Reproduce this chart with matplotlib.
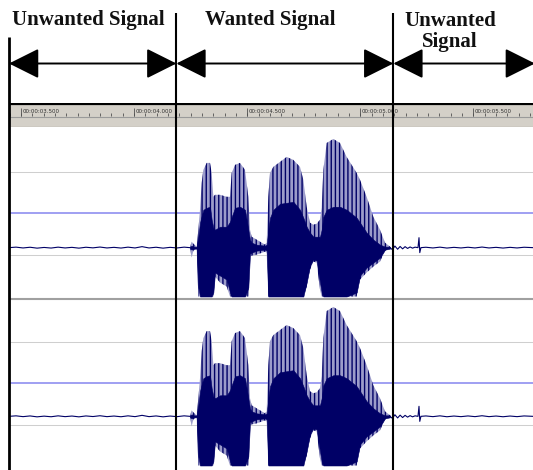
import matplotlib
matplotlib.use("Agg")
import matplotlib.pyplot as plt
import numpy as np

# ---- values ----
# segment boundaries in seconds (the last one sits just past the right edge)
segment_bounds = [3.447, 4.187, 5.146, 5.772]
segment_labels = ["Unwanted Signal", "Wanted Signal", "Unwanted\nSignal"]
label_times = [3.796, 4.601, 5.397]

ruler_major = [3.5, 4.0, 4.5, 5.0, 5.5]
ruler_labels = ["00:00:03.500", "00:00:04.000", "00:00:04.500",
                "00:00:05.000", "00:00:05.500"]

# speech burst envelope (time in s, amplitude in screen px above baseline)
env_t = [4.2471, 4.2545, 4.2618, 4.2766, 4.2840, 4.2913, 4.2987, 4.3061,
         4.3208, 4.3355, 4.3429, 4.3503, 4.3577, 4.3798, 4.4092, 4.4240,
         4.4314, 4.4461, 4.4682, 4.4903, 4.5050, 4.5124, 4.5197, 4.5418,
         4.5787, 4.5860, 4.5934, 4.6008, 4.6155, 4.6450, 4.6744, 4.7039,
         4.7334, 4.7482, 4.7629, 4.7776, 4.7924, 4.8071, 4.8218, 4.8292,
         4.8366, 4.8513, 4.8807, 4.9102, 4.9397, 4.9839, 4.9987, 5.0281,
         5.0576, 5.0871, 5.1092, 5.1313]
env_top = [1, 6, 4, 1, 18, 38, 65, 78, 85, 85, 75, 51, 53, 53, 51, 51,
           75, 83, 85, 78, 51, 18, 11, 8, 3, 5, 51, 75, 81, 86, 91, 88,
           81, 68, 41, 25, 23, 24, 28, 40, 78, 105, 109, 105, 91, 75, 68, 51,
           31, 18, 5, 1]
env_core_top = [1, 2, 1, 1, 11, 25, 32, 38, 40, 41, 28, 20, 18, 21, 21, 26,
                31, 40, 41, 38, 18, 8, 5, 3, 2, 3, 18, 30, 38, 44, 45, 46,
                38, 30, 21, 15, 11, 11, 11, 18, 31, 38, 41, 41, 38, 30, 25, 15,
                8, 3, 1, 1]
env_core_low = [-1, -2, -1, -1, -40, -49, -49, -49, -49, -49, -49, -45, -25,
                -28, -32, -45, -49, -49, -49, -49, -40, -6, -5, -3, -2, -3,
                -49, -49, -49, -49, -49, -49, -49, -49, -35, -18, -12, -13,
                -35, -45, -49, -49, -49, -49, -49, -45, -28, -20, -15, -10,
                -2, -1]
env_low = [-1, -10, -3, -1, -49, -49, -49, -49, -49, -49, -49, -49, -29, -35,
           -39, -49, -49, -49, -49, -49, -49, -9, -8, -7, -4, -5, -49, -49,
           -49, -49, -49, -49, -49, -49, -39, -22, -14, -15, -42, -49, -49,
           -49, -49, -49, -49, -49, -32, -25, -19, -14, -3, -1]

# background noise before and after the word
quiet_pre_t = [3.447, 3.478, 3.509, 3.540, 3.571, 3.602, 3.633, 3.664, 3.695,
               3.725, 3.756, 3.787, 3.818, 3.849, 3.880, 3.911, 3.942, 3.973,
               4.004, 4.035, 4.066, 4.097, 4.128, 4.159, 4.190, 4.221, 4.247]
quiet_pre_amp = [0, 0.5, -0.3, 0.4, -0.5, 0.2, -0.4, 0.5, -0.3, 0.3, -0.5,
                 0.4, -0.2, 0.6, -0.3, 0.3, -0.4, 0.5, -0.3, 1.0, -0.3, 0.4,
                 -0.5, 0.3, -0.3, 0.5, 0]
quiet_post_t = [5.131, 5.142, 5.153, 5.165, 5.176, 5.187, 5.198, 5.209, 5.220,
                5.231, 5.242, 5.255, 5.2595, 5.263, 5.268, 5.290, 5.321, 5.352,
                5.383, 5.414, 5.445, 5.476, 5.507, 5.538, 5.569, 5.600, 5.631,
                5.662, 5.693, 5.724, 5.764]
quiet_post_amp = [0, -2.0, 1.6, -1.6, 1.2, -1.2, 1.0, -0.8, 0.7, -0.5, 0.5, 0,
                  10, -5, 0, 0.4, -0.3, 0.5, -0.4, 0.3, -0.3, 0.4, -0.3, 0.6,
                  -0.3, 0.3, -0.4, 0.3, -0.3, 0.4, 0]

# editor grid lines per channel (px above baseline)
ch_gray_lines = [[76, -7], [74, -9]]
ch_blue_lines = [35, 33]

# ---- layout (pixels of a 533x470 screenshot) ----
W, H = 533, 470
T_LEFT = 3.4072
T_RIGHT = 5.7635
T_PANEL = 3.4469
NAVY = "#000066"
LAVENDER = "#9c9cca"


def px_axes(fig, x0, y0, x1, y1):
    """Add an axes from pixel box (top-left origin)."""
    return fig.add_axes([x0 / W, 1 - y1 / H, (x1 - x0) / W, (y1 - y0) / H])


fig = plt.figure(figsize=(W / 100, H / 100), dpi=100, facecolor="white")
plt.rcParams["hatch.linewidth"] = 1.0

# ruler
ax_r = px_axes(fig, 9, 103, W, 127.5)
ax_r.set_xlim(T_PANEL, T_RIGHT)
ax_r.set_ylim(127.5, 103)
ax_r.set_axis_off()
ax_r.add_patch(plt.Rectangle((0, 0), 1, 1, transform=ax_r.transAxes,
                             facecolor="#d4d0c8", edgecolor="none", zorder=0))
ax_r.axhline(104.2, color="black", lw=1.6)
ax_r.axhline(116.7, color="#9a9a9a", lw=0.8)
ax_r.axhline(127.0, color="#555555", lw=0.8)
minor = np.arange(3.45, 5.76, 0.05)
ax_r.vlines(minor, 113.2, 115.6, color="#505050", lw=0.6)
ax_r.vlines(ruler_major, 108.2, 115.6, color="#505050", lw=0.6)
for t, lab in zip(ruler_major, ruler_labels):
    ax_r.text(t + 0.006, 112.6, lab, fontsize=4.0, color="#303030",
              ha="left", va="baseline", family="DejaVu Sans")

# two audio channels
channel_boxes = [(127.5, 297.5, -50, 120.5), (300.5, 470, -53.5, 115.5)]
for ci, (y0, y1, lo, hi) in enumerate(channel_boxes):
    ax = px_axes(fig, 9, y0, W, y1)
    ax.set_xlim(T_PANEL, T_RIGHT)
    ax.set_ylim(lo, hi)
    ax.set_axis_off()
    for g in ch_gray_lines[ci]:
        ax.axhline(g, color="#cfcfcf", lw=0.75, zorder=1)
    ax.axhline(ch_blue_lines[ci], color="#8f8ff0", lw=1.2, zorder=1)

    ax.fill_between(env_t, env_low, env_top, facecolor=LAVENDER,
                    edgecolor=NAVY, linewidth=0, hatch="||||", zorder=2)
    ax.fill_between(env_t, env_core_low, env_core_top, color=NAVY,
                    linewidth=0.4, zorder=3)
    ax.plot(quiet_pre_t, quiet_pre_amp, color=NAVY, lw=0.8, zorder=3)
    ax.plot(quiet_post_t, quiet_post_amp, color=NAVY, lw=0.8, zorder=3)

# overlay: marker lines, arrows and labels
ax_o = fig.add_axes([0, 0, 1, 1])
ax_o.set_zorder(10)
ax_o.patch.set_visible(False)
ax_o.set_xlim(T_LEFT, T_RIGHT)
ax_o.set_ylim(H, 0)
ax_o.set_axis_off()

# channel separator
ax_o.hlines(299, T_PANEL, T_RIGHT, color="#a0a0a0", lw=1.5)

ax_o.vlines(segment_bounds[0], 37, H, color="black", lw=2.0)
ax_o.vlines(segment_bounds[1:3], 13, H, color="black", lw=1.5)

ARROW_Y = 63.5
for t0, t1 in zip(segment_bounds[:-1], segment_bounds[1:]):
    ax_o.annotate(
        "", xy=(t1, ARROW_Y), xytext=(t0, ARROW_Y), xycoords="data",
        annotation_clip=False,
        arrowprops=dict(arrowstyle="<|-|>,head_length=1.0,head_width=0.5",
                        mutation_scale=18.8, color="black", lw=1.4,
                        shrinkA=0, shrinkB=0),
    )

for t, lab in zip(label_times, segment_labels):
    for li, line in enumerate(lab.split("\n")):
        ax_o.text(t, 25.3 + (1.2 if li == 0 and "\n" in lab else 0) + li * 21.6,
                  line, ha="center", va="baseline", fontsize=15,
                  fontweight="bold", family="Liberation Serif", color="#111111")

fig.savefig("out.png", dpi=100, facecolor="white")
